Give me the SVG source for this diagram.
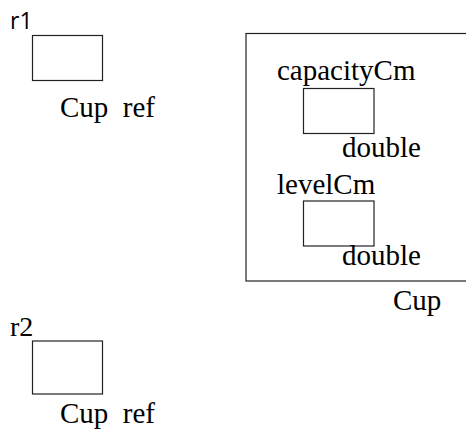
<svg xmlns="http://www.w3.org/2000/svg" width="466" height="432" viewBox="0 0 466 432">
<style>
.box{fill:#fff;stroke:#222;stroke-width:1.2}
.t{font-family:"Liberation Serif","Times New Roman",serif;font-size:29px;fill:#000;white-space:pre}
.s{font-family:"Open Sans","Noto Sans",sans-serif;font-size:23px;fill:#000}
</style>
<rect width="466" height="432" fill="#fff"/>
<g id="r1">
<text class="s" x="10" y="29">r1</text>
<rect class="box" x="32.5" y="35.5" width="70" height="45"/>
<text class="t" x="60" y="117" xml:space="preserve">Cup  ref</text>
</g>
<g id="cup">
<rect class="box" x="246" y="33.5" width="230" height="247.5"/>
<text class="t" x="393" y="310">Cup</text>
<g id="capacityCm">
<text class="t" x="277" y="80">capacityCm</text>
<rect class="box" x="303.5" y="88.5" width="70.5" height="45"/>
<text class="t" x="342" y="157">double</text>
</g>
<g id="levelCm">
<text class="t" x="277" y="194">levelCm</text>
<rect class="box" x="303.5" y="201" width="70.5" height="45"/>
<text class="t" x="342" y="265">double</text>
</g>
</g>
<g id="r2">
<text class="t" x="10" y="336" style="font-size:28px">r2</text>
<rect class="box" x="32.5" y="341" width="70" height="53"/>
<text class="t" x="60" y="423" xml:space="preserve">Cup  ref</text>
</g>
<g id="connectors"></g>
</svg>
